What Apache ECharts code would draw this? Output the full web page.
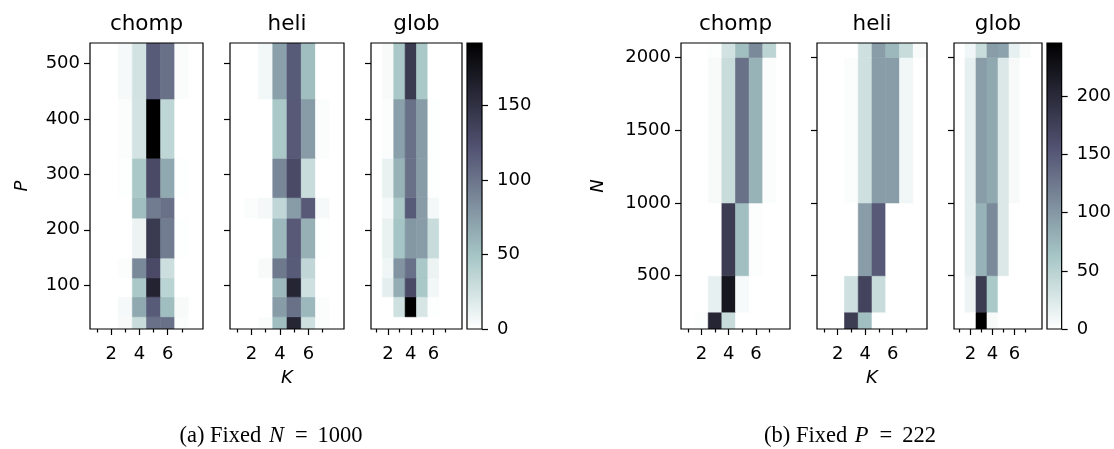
<!DOCTYPE html>
<html>
<head>
<meta charset="utf-8">
<script src="https://cdn.jsdelivr.net/npm/echarts@6/dist/echarts.min.js"></script>
<style>html,body{margin:0;padding:0;background:#fff}#c{width:1114px;height:449px}</style>
</head>
<body>
<div id="c"></div>
<script>
// ---------- data ----------
const K = [1, 2, 3, 4, 5, 6, 7, 8];
const kTicks = [2, 4, 6];
const kMinorTicks = [1, 3, 5, 7];
const pEdges = [21, 43, 79, 113, 149, 221, 258, 329, 436, 537];
const nEdges = [134, 250, 500, 1000, 2000, 2099];
const pTicks = [100, 200, 300, 400, 500];
const nTicks = [500, 1000, 1500, 2000];
const cbTicksA = [0, 50, 100, 150];
const cbTicksB = [0, 50, 100, 150, 200];
const vmaxA = 192;
const vmaxB = 246;
const titles = ['chomp', 'heli', 'glob'];

// rows bottom -> top, columns K = 1..8
const chompA = [
  [0, 0, 4, 30, 102, 102, 2, 0],
  [0, 0, 5, 68, 116, 54, 4, 0],
  [0, 0, 0, 47, 162, 38, 0, 0],
  [0, 0, 2, 87, 128, 28, 0, 0],
  [0, 0, 0, 10, 142, 95, 1, 0],
  [0, 0, 0, 54, 95, 102, 0, 0],
  [0, 0, 1, 47, 128, 68, 1, 0],
  [0, 0, 2, 24, 192, 35, 0, 0],
  [0, 0, 5, 25, 116, 102, 3, 0]
];
const heliA = [
  [0, 0, 3, 54, 160, 27, 2, 0],
  [0, 0, 0, 75, 102, 58, 2, 0],
  [0, 0, 0, 58, 160, 27, 0, 0],
  [0, 0, 4, 97, 116, 34, 0, 0],
  [0, 0, 0, 58, 117, 63, 1, 0],
  [0, 2, 6, 34, 75, 117, 5, 0],
  [0, 0, 0, 88, 128, 30, 0, 0],
  [0, 0, 0, 47, 117, 75, 2, 0],
  [0, 0, 7, 73, 116, 54, 0, 0]
];
const globA = [
  [0, 0, 0, 0, 0, 0, 0, 0],
  [0, 0, 27, 192, 22, 1, 0, 0],
  [0, 15, 65, 128, 47, 7, 0, 0],
  [0, 8, 80, 102, 47, 10, 0, 0],
  [0, 12, 50, 78, 75, 30, 0, 0],
  [0, 5, 47, 116, 75, 6, 0, 0],
  [0, 12, 61, 102, 75, 1, 0, 0],
  [0, 2, 73, 102, 75, 1, 0, 0],
  [0, 4, 47, 142, 47, 0, 0, 0]
];
const chompB = [
  [0, 2, 205, 39, 0, 0, 0, 0],
  [0, 0, 17, 221, 6, 0, 0, 0],
  [0, 0, 0, 180, 69, 2, 0, 0],
  [0, 0, 5, 39, 131, 78, 3, 0],
  [0, 0, 2, 32, 69, 111, 47, 0]
];
const heliB = [
  [0, 0, 180, 69, 0, 0, 0, 0],
  [0, 0, 34, 172, 39, 0, 0, 0],
  [0, 0, 0, 96, 150, 0, 0, 0],
  [0, 0, 3, 34, 96, 96, 10, 0],
  [0, 0, 0, 34, 96, 74, 39, 4]
];
const globB = [
  [0, 0, 246, 5, 0, 0, 0, 0],
  [0, 12, 180, 60, 0, 0, 0, 0],
  [0, 17, 78, 111, 25, 0, 0, 0],
  [0, 17, 96, 87, 25, 5, 0, 0],
  [0, 10, 39, 96, 92, 17, 4, 0]
];

// ---------- colormap (matplotlib bone_r) ----------
function bone(s) {
  s = Math.max(0, Math.min(1, s));
  const r = s < 0.746032 ? s * 0.652778 / 0.746032 : 0.652778 + (s - 0.746032) * (1 - 0.652778) / (1 - 0.746032);
  const g = s < 0.365079 ? s * 0.319444 / 0.365079 :
    (s < 0.746032 ? 0.319444 + (s - 0.365079) * (0.777778 - 0.319444) / (0.746032 - 0.365079) :
      0.777778 + (s - 0.746032) * (1 - 0.777778) / (1 - 0.746032));
  const b = s < 0.365079 ? s * 0.444444 / 0.365079 : 0.444444 + (s - 0.365079) * (1 - 0.444444) / (1 - 0.365079);
  return 'rgb(' + Math.round(r * 255) + ',' + Math.round(g * 255) + ',' + Math.round(b * 255) + ')';
}
function boneR(t) { return bone(1 - t); }

function cells(mat, edges) {
  const out = [];
  mat.forEach((row, ri) => row.forEach((v, ki) => out.push([K[ki], edges[ri], edges[ri + 1], v])));
  return out;
}

// ---------- layout ----------
const TOP = 43, H = 286;
const panels = [
  { mat: chompA, edges: pEdges, ticks: pTicks, vmax: vmaxA, left: 90, width: 113, labels: true, title: titles[0] },
  { mat: heliA, edges: pEdges, ticks: pTicks, vmax: vmaxA, left: 230, width: 114, labels: false, title: titles[1] },
  { mat: globA, edges: pEdges, ticks: pTicks, vmax: vmaxA, left: 371, width: 91, labels: false, title: titles[2] },
  { mat: chompB, edges: nEdges, ticks: nTicks, vmax: vmaxB, left: 681, width: 109, labels: true, title: titles[0] },
  { mat: heliB, edges: nEdges, ticks: nTicks, vmax: vmaxB, left: 817, width: 110, labels: false, title: titles[1] },
  { mat: globB, edges: nEdges, ticks: nTicks, vmax: vmaxB, left: 954, width: 88, labels: false, title: titles[2] }
];
const cbars = [
  { vmax: vmaxA, ticks: cbTicksA, left: 467, width: 15 },
  { vmax: vmaxB, ticks: cbTicksB, left: 1047, width: 15 }
];

const FONT = 'DejaVu Sans';
const tickStyle = { color: '#000', width: 1.2 };
const labelStyle = { fontSize: 18, color: '#000', fontFamily: FONT, formatter: function (v) { return String(v); } };
const noLine = { show: false, onZero: false };

const grid = [], xAxis = [], yAxis = [], series = [], graphic = [];

panels.forEach((p, i) => {
  grid.push({ left: p.left, top: TOP, width: p.width, height: H, show: true, borderColor: '#000', borderWidth: 1.2, backgroundColor: 'transparent', z: 10 });
  const xi = xAxis.length;
  xAxis.push({
    gridIndex: i, type: 'value', min: 0.5, max: 8.5, position: 'bottom', z: 12,
    axisLine: noLine, splitLine: { show: false },
    axisTick: { show: true, length: 6, lineStyle: tickStyle, customValues: kTicks },
    axisLabel: Object.assign({ show: true, margin: 16, customValues: kTicks }, labelStyle)
  });
  xAxis.push({
    gridIndex: i, type: 'value', min: 0.5, max: 8.5, position: 'bottom', z: 12,
    axisLine: noLine, splitLine: { show: false },
    axisTick: { show: true, length: 3.5, lineStyle: tickStyle, customValues: kMinorTicks },
    axisLabel: { show: false }
  });
  const yi = yAxis.length;
  yAxis.push({
    gridIndex: i, type: 'value', min: p.edges[0], max: p.edges[p.edges.length - 1], position: 'left', z: 12,
    axisLine: noLine, splitLine: { show: false },
    axisTick: { show: true, length: 6, lineStyle: tickStyle, customValues: p.ticks },
    axisLabel: Object.assign({ show: p.labels, margin: 10, customValues: p.ticks }, labelStyle)
  });
  const vmax = p.vmax;
  series.push({
    type: 'custom', xAxisIndex: xi, yAxisIndex: yi, z: 1, clip: true,
    encode: { x: 0, y: [1, 2] },
    data: cells(p.mat, p.edges),
    renderItem: function (params, api) {
      const k = api.value(0), y0 = api.value(1), y1 = api.value(2), v = api.value(3);
      const a = api.coord([k - 0.5, y1]);
      const b = api.coord([k + 0.5, y0]);
      const c = boneR(v / vmax);
      return { type: 'rect', shape: { x: a[0], y: a[1], width: b[0] - a[0], height: b[1] - a[1] }, style: { fill: c, stroke: c, lineWidth: 0.6 } };
    }
  });
  graphic.push({
    type: 'text', x: p.left + p.width / 2, y: 24,
    style: { text: p.title, fontSize: 21.5, fontFamily: FONT, fill: '#000', align: 'center', verticalAlign: 'middle' }
  });
});

cbars.forEach((cb) => {
  const gi = grid.length;
  grid.push({ left: cb.left, top: TOP, width: cb.width, height: H, show: true, borderColor: '#000', borderWidth: 1.2, backgroundColor: 'transparent', z: 10 });
  const xi = xAxis.length;
  xAxis.push({ gridIndex: gi, type: 'value', min: 0, max: 1, show: false, axisLine: noLine, axisTick: { show: false }, axisLabel: { show: false }, splitLine: { show: false } });
  const yi = yAxis.length;
  yAxis.push({
    gridIndex: gi, type: 'value', min: 0, max: cb.vmax, position: 'right', z: 12,
    axisLine: noLine, splitLine: { show: false },
    axisTick: { show: true, length: 6, lineStyle: tickStyle, customValues: cb.ticks },
    axisLabel: Object.assign({ show: true, margin: 15, customValues: cb.ticks }, labelStyle)
  });
  const stops = [];
  for (let i = 0; i <= 32; i++) stops.push({ offset: i / 32, color: boneR(1 - i / 32) });
  series.push({
    type: 'custom', xAxisIndex: xi, yAxisIndex: yi, z: 1,
    encode: { x: 0, y: 1 },
    data: [[0, cb.vmax]],
    renderItem: function (params, api) {
      const a = api.coord([0, api.value(1)]);
      const b = api.coord([1, 0]);
      return { type: 'rect', shape: { x: a[0], y: a[1], width: b[0] - a[0], height: b[1] - a[1] },
        style: { fill: new echarts.graphic.LinearGradient(0, 0, 0, 1, stops), stroke: null } };
    }
  });
});

// axis names
function addText(x, y, text, rot, italic) {
  graphic.push({
    type: 'text', x: x, y: y, rotation: rot || 0,
    style: { text: text, fontSize: 18, fontFamily: FONT, fontStyle: italic ? 'italic' : 'normal', fill: '#000', align: 'center', verticalAlign: 'middle' }
  });
}
addText(22, 186, 'P', Math.PI / 2, true);
addText(287, 378, 'K', 0, true);
addText(598, 186, 'N', Math.PI / 2, true);
addText(872, 378, 'K', 0, true);

// captions
function addCaption(x, pre, v, num) {
  const f = 'Liberation Serif', fs = 22.5;
  graphic.push({
    type: 'text', x: x, y: 436,
    style: {
      text: '{r|' + pre + '}{i|' + v + '}{e|=}{r|' + num + '}',
      align: 'center', verticalAlign: 'middle',
      rich: {
        r: { fontFamily: f, fontSize: fs, fill: '#000' },
        i: { fontFamily: f, fontSize: fs, fontStyle: 'italic', fill: '#000', padding: [0, 1, 0, 2] },
        e: { fontFamily: f, fontSize: fs, fill: '#000', padding: [0, 10, 0, 10] }
      }
    }
  });
}
addCaption(271, '(a) Fixed ', 'N', '1000');
addCaption(850, '(b) Fixed ', 'P', '222');

const chart = echarts.init(document.getElementById('c'), null, { renderer: 'canvas' });
chart.setOption({ animation: false, backgroundColor: '#fff', grid, xAxis, yAxis, series, graphic });
</script>
</body>
</html>
